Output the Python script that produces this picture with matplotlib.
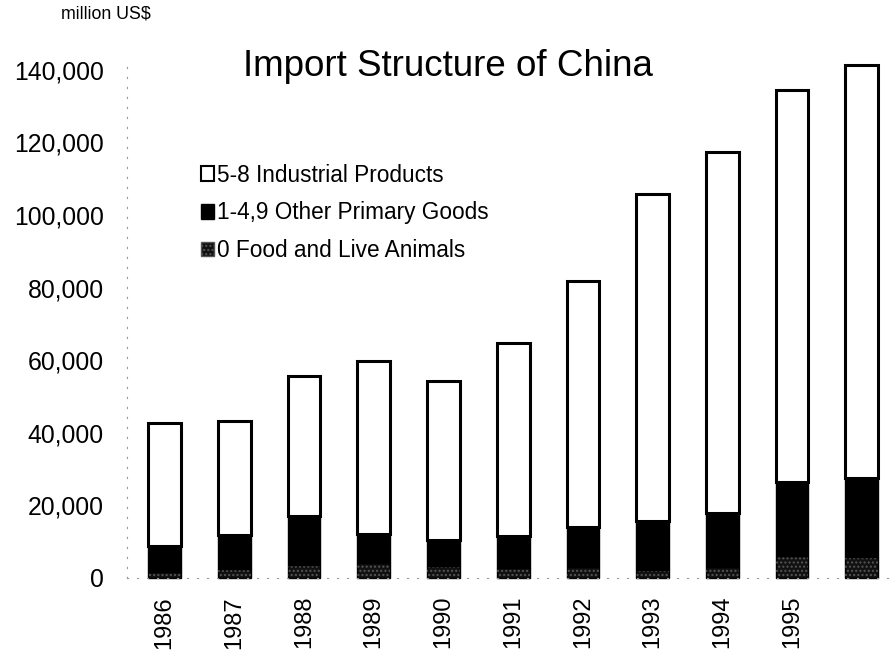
import numpy as np
import matplotlib.pyplot as plt
import matplotlib.patches as mpatches

plt.rcParams['font.family'] = ['Liberation Sans', 'DejaVu Sans']

years = ['1986', '1987', '1988', '1989', '1990', '1991', '1992', '1993', '1994', '1995', '1996']
year_labels = ['1986', '1987', '1988', '1989', '1990', '1991', '1992', '1993', '1994', '1995', '']
food = [1.6, 2.4, 3.5, 4.2, 3.3, 2.8, 3.1, 2.2, 3.1, 6.1, 5.7]
primary_top = [8.8, 11.8, 17.1, 12.1, 10.5, 11.6, 14.0, 15.7, 17.9, 26.4, 27.5]
total = [42.7, 43.2, 55.6, 59.8, 54.3, 64.7, 81.8, 105.8, 117.4, 134.4, 141.3]

food = np.array(food) * 1000
other = np.array(primary_top) * 1000 - food
industrial = np.array(total) * 1000 - food - other

fig = plt.figure(figsize=(8.96, 6.56), dpi=100)
ax = fig.add_axes([0.142, 0.119, 0.858, 0.791])

x = np.arange(len(years))
w = 0.47
ax.bar(x, food, w, color='#111111', edgecolor='black', linewidth=1, clip_on=False)
ax.bar(x, food, w, color='none', edgecolor='#555555', hatch='....', linewidth=0, clip_on=False)
ax.bar(x, other, w, bottom=food, color='black', edgecolor='black', linewidth=1, clip_on=False)
ax.bar(x, industrial, w, bottom=food + other, color='white', edgecolor='black', linewidth=2.2, clip_on=False)

ax.set_xlim(-0.535, 10.49)
ax.set_ylim(0, 143000)
ax.set_yticks(np.arange(0, 140001, 20000))
ax.set_yticklabels([f'{v:,}' for v in range(0, 140001, 20000)], fontsize=17.8)
ax.set_xticks(x)
ax.set_xticklabels(year_labels, rotation=90, fontsize=17)
ax.tick_params(axis='y', length=0, pad=17)
ax.tick_params(axis='x', length=0, pad=13)
for s in ['top', 'right']:
    ax.spines[s].set_visible(False)
for s in ['left', 'bottom']:
    ax.spines[s].set_linestyle((0, (1, 8)))
    ax.spines[s].set_color('#999999')

fig.text(0.5, 0.898, 'Import Structure of China', fontsize=26.5, ha='center', va='center')
fig.text(0.068, 0.979, 'million US$', fontsize=12.8, ha='left', va='center')

handles = [
    mpatches.Patch(facecolor='white', edgecolor='black', linewidth=1.5, label='5-8 Industrial Products'),
    mpatches.Patch(facecolor='black', edgecolor='black', label='1-4,9 Other Primary Goods'),
    mpatches.Patch(facecolor='#111111', edgecolor='#555555', hatch='....', label='0 Food and Live Animals'),
]
fig.legend(handles=handles, loc='upper left', bbox_to_anchor=(0.212, 0.768), frameon=False,
           fontsize=16.3, handlelength=0.58, handleheight=0.58, handletextpad=0.12, labelspacing=0.66,
           borderpad=0)

fig.savefig('out.png', dpi=100)
